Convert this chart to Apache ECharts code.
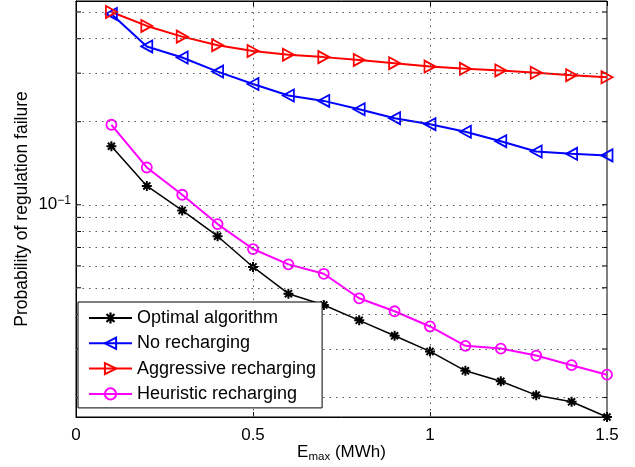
<!DOCTYPE html>
<html>
<head>
<meta charset="utf-8">
<script src="https://cdn.jsdelivr.net/npm/echarts@6/dist/echarts.min.js"></script>
<style>
html,body{margin:0;padding:0;background:#fff;}
#c{width:635px;height:467px;}
</style>
</head>
<body>
<div id="c"></div>
<script>
// ---- data ----
var xValues = [0.1, 0.2, 0.3, 0.4, 0.5, 0.6, 0.7, 0.8, 0.9, 1.0, 1.1, 1.2, 1.3, 1.4, 1.5];
var optimal = [0.163, 0.117, 0.0954, 0.0769, 0.0595, 0.0476, 0.0433, 0.0381, 0.0335, 0.0294, 0.0250, 0.0229, 0.0204, 0.0193, 0.0170];
var noRecharging = [0.492, 0.375, 0.342, 0.304, 0.274, 0.249, 0.238, 0.222, 0.206, 0.196, 0.184, 0.170, 0.156, 0.153, 0.151];
var aggressive = [0.500, 0.445, 0.407, 0.379, 0.361, 0.350, 0.343, 0.335, 0.326, 0.317, 0.311, 0.307, 0.301, 0.295, 0.290];
var heuristic = [0.195, 0.1365, 0.1087, 0.0851, 0.0691, 0.0608, 0.0562, 0.0458, 0.0411, 0.0362, 0.0308, 0.0301, 0.0284, 0.0262, 0.0242];
var seriesNames = ['Optimal algorithm', 'No recharging', 'Aggressive recharging', 'Heuristic recharging'];
var yGridValues = [0.02, 0.03, 0.04, 0.05, 0.06, 0.07, 0.08, 0.09, 0.1, 0.2, 0.3, 0.4, 0.5];
var xGridValues = [0.5, 1.0];

function pairs(ys) { return xValues.map(function (x, i) { return [x, ys[i]]; }); }

// asterisk marker path
function asteriskPath() {
  var L = 5, w = 1.0, s = '';
  [0, 45, 90, 135].forEach(function (deg) {
    var a = deg * Math.PI / 180, c = Math.cos(a), sn = Math.sin(a);
    var pts = [[-L, -w], [L, -w], [L, w], [-L, w]].map(function (p) {
      return [(p[0] * c - p[1] * sn + 6).toFixed(3), (p[0] * sn + p[1] * c + 6).toFixed(3)];
    });
    s += 'M' + pts[0].join(' ') + 'L' + pts[1].join(' ') + 'L' + pts[2].join(' ') + 'L' + pts[3].join(' ') + 'Z';
  });
  return 'path://' + s;
}

var chart = echarts.init(document.getElementById('c'), null, { renderer: 'canvas' });
var font = 'Liberation Sans, Arial, sans-serif';
var gridDot = { type: [1.5, 5], color: '#555', width: 1 };

var option = {
  animation: false,
  backgroundColor: '#fff',
  textStyle: { fontFamily: font },
  grid: { left: 76, right: 28, top: 1, bottom: 50, show: true, borderColor: '#000', borderWidth: 1,
    backgroundColor: 'transparent', containLabel: false, outerBoundsMode: 'none' },
  legend: {
    data: seriesNames,
    orient: 'vertical',
    left: 78, top: 302,
    width: 244,
    padding: [7, 6, 5, 10],
    itemWidth: 43, itemHeight: 14, itemGap: 7.3,
    backgroundColor: '#fff', borderColor: '#000', borderWidth: 1, borderRadius: 0,
    textStyle: { fontSize: 18, color: '#000', fontFamily: font, lineHeight: 18 },
    z: 10
  },
  xAxis: [{
    type: 'value', min: 0, max: 1.5, interval: 0.5,
    name: '{a|E}{s|max}{a| (MWh)}', nameLocation: 'middle', nameGap: 27, nameMoveOverlap: false,
    nameTextStyle: { rich: {
      a: { fontSize: 17, color: '#000', fontFamily: font, padding: [0, 0, 9, 0] },
      s: { fontSize: 11.5, color: '#000', fontFamily: font }
    } },
    axisLine: { show: true, lineStyle: { color: '#000' } },
    axisTick: { show: true, inside: true, length: 5, lineStyle: { color: '#000' } },
    axisLabel: { fontSize: 17, color: '#000', margin: 10, fontFamily: font,
      formatter: function (v) { return String(v); } },
    splitLine: { show: false }
  }, {
    type: 'value', min: 0, max: 1.5, interval: 0.5, position: 'top',
    axisLine: { show: true, lineStyle: { color: '#000' } },
    axisTick: { show: true, inside: true, length: 5, lineStyle: { color: '#000' } },
    axisLabel: { show: false }, splitLine: { show: false }
  }],
  yAxis: [{
    type: 'log', logBase: 10, min: 0.017, max: 0.548,
    name: 'Probability of regulation failure', nameLocation: 'middle', nameGap: 45, nameRotate: 90,
    nameMoveOverlap: false,
    nameTextStyle: { fontSize: 17.5, color: '#000', fontFamily: font },
    axisLine: { show: true, lineStyle: { color: '#000' } },
    axisTick: { show: false },
    axisLabel: { fontSize: 17, color: '#000', margin: 5, fontFamily: font,
      formatter: function (v) {
        return Math.abs(Math.log10(v) + 1) < 1e-6 ? '{b|10}{s|\u22121}' : '';
      },
      rich: {
        b: { fontSize: 17, color: '#000', fontFamily: font },
        s: { fontSize: 12, color: '#000', fontFamily: font, padding: [0, 0, 9, 0] }
      }
    },
    splitLine: { show: false }
  }],
  series: [
    {
      name: '_grid', type: 'line', data: [], silent: true, z: 1,
      markLine: {
        silent: true, symbol: 'none', animation: false,
        label: { show: false },
        lineStyle: gridDot,
        data: yGridValues.map(function (v) { return { yAxis: v }; })
          .concat(xGridValues.map(function (v) { return { xAxis: v }; }))
      }
    },
    {
      name: '_yticks', type: 'custom', silent: true, z: 2,
      data: yGridValues.map(function (v) { return [0, v]; }),
      renderItem: function (params, api) {
        var p = api.coord([0, api.value(1)]);
        var r = api.coord([1.5, api.value(1)]);
        var st = { stroke: '#000', lineWidth: 1 };
        return { type: 'group', children: [
          { type: 'line', shape: { x1: p[0], y1: p[1], x2: p[0] + 5, y2: p[1] }, style: st },
          { type: 'line', shape: { x1: r[0] - 5, y1: r[1], x2: r[0], y2: r[1] }, style: st }
        ] };
      }
    },
    {
      name: seriesNames[0], type: 'line', data: pairs(optimal), clip: false, z: 3,
      symbol: asteriskPath(), symbolSize: 10,
      lineStyle: { color: '#000', width: 1.5 },
      itemStyle: { color: '#000' }
    },
    {
      name: seriesNames[1], type: 'line', data: pairs(noRecharging), clip: false, z: 3,
      symbol: 'triangle', symbolSize: [12, 11], symbolRotate: 90,
      lineStyle: { color: '#0000ff', width: 2 },
      itemStyle: { color: 'rgba(0,0,0,0)', borderColor: '#0000ff', borderWidth: 1.8 }
    },
    {
      name: seriesNames[2], type: 'line', data: pairs(aggressive), clip: false, z: 3,
      symbol: 'triangle', symbolSize: [12, 11], symbolRotate: -90,
      lineStyle: { color: '#ff0000', width: 2 },
      itemStyle: { color: 'rgba(0,0,0,0)', borderColor: '#ff0000', borderWidth: 1.8 }
    },
    {
      name: seriesNames[3], type: 'line', data: pairs(heuristic), clip: false, z: 3,
      symbol: 'circle', symbolSize: 10,
      lineStyle: { color: '#ff00ff', width: 2 },
      itemStyle: { color: 'rgba(0,0,0,0)', borderColor: '#ff00ff', borderWidth: 1.8 }
    }
  ]
};
chart.setOption(option);
</script>
</body>
</html>
